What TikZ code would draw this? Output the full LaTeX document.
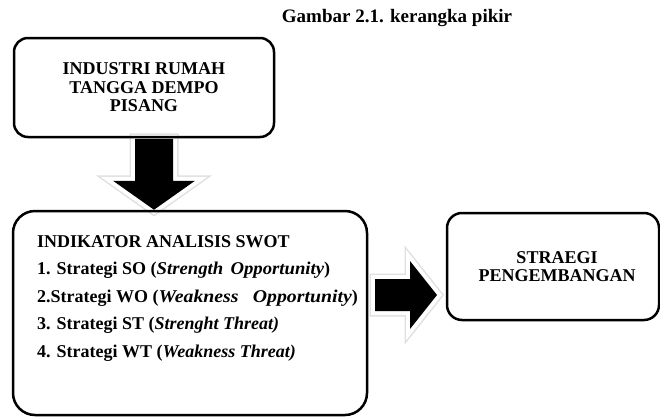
\documentclass[tikz,border=0pt]{standalone}
\usepackage{fontspec}
\setmainfont{Liberation Serif}
\usetikzlibrary{backgrounds}
\begin{document}
\begin{tikzpicture}[x=1pt,y=-1pt,
  box/.style={draw, line width=2.5pt, inner sep=0pt},
  boxtxt/.style={font=\bfseries\fontsize{18}{18.5}\selectfont, align=center},
  listtxt/.style={font=\bfseries\fontsize{18}{27.5}\selectfont, align=left, inner sep=0pt},
  bigarrow/.style={fill=black,
    preaction={draw=black!12, line width=11pt},
    preaction={draw=white, line width=8pt}}
]
\useasboundingbox (0,0) rectangle (660,418);
\node[font=\bfseries\fontsize{19}{20}\selectfont, anchor=base] (title) at (397,22) {Gambar 2.1. kerangka pikir};
\node[box, rounded corners=14pt, minimum width=260pt, minimum height=99pt, boxtxt] (box1) at (144,87.5)
  {INDUSTRI RUMAH\\TANGGA DEMPO\\PISANG};
\node[box, rounded corners=22pt, minimum width=354pt, minimum height=204pt] (box2) at (190,313) {};
\node[listtxt, anchor=north west] (list) at (37,235)
  {INDIKATOR ANALISIS SWOT\\
   1. Strategi SO (\scalebox{1.04}[1]{\textit{Strength\hspace{7pt}Opportunity}})\\
   2.Strategi WO (\scalebox{1.1}[1]{\textit{Weakness\hspace{13pt}Opportunity}})\\
   3. Strategi ST (\textit{Strenght Threat)}\\
   4. Strategi WT (\textit{Weakness Threat)}};
\node[box, rounded corners=15pt, minimum width=212pt, minimum height=107pt, boxtxt] (box3) at (553,266.5)
  {\hspace*{8pt}STRAEGI\\\hspace*{8pt}PENGEMBANGAN};
\coordinate (tip1) at (box2.north -| 154,0);
\coordinate (tip2) at (437,295);
\begin{scope}[on background layer]
\begin{scope}[shift={(tip1)}]
\path[bigarrow] (-19,-71) -- (19,-71) -- (19,-29) -- (41,-29) -- (0,0) -- (-41,-29) -- (-19,-29) -- cycle;
\end{scope}
\begin{scope}[shift={(tip2)}]
\path[bigarrow] (-62,-16) -- (-27,-16) -- (-27,-34) -- (0,0) -- (-27,34) -- (-27,16) -- (-62,16) -- cycle;
\end{scope}
\end{scope}
\end{tikzpicture}
\end{document}
